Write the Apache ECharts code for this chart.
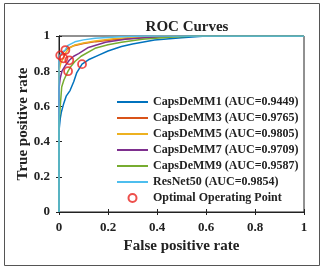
<!DOCTYPE html>
<html>
<head>
<meta charset="utf-8">
<title>ROC Curves</title>
<style>
  html, body { margin: 0; padding: 0; background: #fff; }
  #chart { width: 324px; height: 271px; }
</style>
</head>
<body>
<div id="chart"></div>
<script src="https://cdn.jsdelivr.net/npm/echarts@6/dist/echarts.min.js"></script>
<script>
// ROC curves as [fpr, tpr]
var caps1 = [[0,0],[0,0.46],[0.005,0.53],[0.01,0.57],[0.02,0.62],[0.03,0.66],[0.045,0.69],[0.06,0.74],[0.072,0.79],[0.094,0.84],[0.12,0.865],[0.16,0.89],[0.2,0.915],[0.255,0.94],[0.3,0.955],[0.39,0.977],[0.5,0.99],[0.6,1],[1,1]];
var caps3 = [[0,0],[0,0.82],[0.005,0.89],[0.015,0.905],[0.03,0.925],[0.06,0.945],[0.1,0.957],[0.15,0.968],[0.23,0.98],[0.35,0.992],[0.45,1],[1,1]];
var caps5 = [[0,0],[0,0.8],[0.008,0.85],[0.018,0.873],[0.025,0.9],[0.04,0.93],[0.065,0.949],[0.1,0.96],[0.147,0.972],[0.23,0.986],[0.35,0.996],[0.45,1],[1,1]];
var caps7 = [[0,0],[0,0.7],[0.005,0.76],[0.012,0.8],[0.025,0.83],[0.042,0.862],[0.06,0.885],[0.08,0.9],[0.12,0.935],[0.19,0.965],[0.27,0.982],[0.35,0.99],[0.45,0.997],[0.55,1],[1,1]];
var caps9 = [[0,0],[0,0.5],[0.004,0.58],[0.011,0.71],[0.02,0.75],[0.03,0.78],[0.037,0.80],[0.05,0.83],[0.065,0.855],[0.09,0.885],[0.147,0.93],[0.2,0.95],[0.255,0.964],[0.34,0.982],[0.45,0.993],[0.55,1],[1,1]];
var resnet = [[0,0],[0,0.88],[0.01,0.905],[0.026,0.92],[0.035,0.945],[0.065,0.967],[0.1,0.978],[0.147,0.987],[0.25,0.996],[0.35,1],[1,1]];
var optimal = [[0.005,0.89],[0.018,0.873],[0.042,0.862],[0.037,0.80],[0.094,0.84],[0.026,0.92]];

var names = ['CapsDeMM1 (AUC=0.9449)','CapsDeMM3 (AUC=0.9765)','CapsDeMM5 (AUC=0.9805)',
             'CapsDeMM7 (AUC=0.9709)','CapsDeMM9 (AUC=0.9587)','ResNet50 (AUC=0.9854)'];
var colors = ['#0072BD','#D95319','#EDB120','#7E2F8E','#77AC30','#4DBEEE'];
var curves = [caps1, caps3, caps5, caps7, caps9, resnet];

var font = 'Liberation Serif';
var chart = echarts.init(document.getElementById('chart'));

var series = curves.map(function (d, i) {
  return {
    name: names[i], type: 'line', data: d, showSymbol: false, symbol: 'none',
    lineStyle: { color: colors[i], width: 1.5 }, itemStyle: { color: colors[i] },
    animation: false
  };
});
series.push({
  name: 'Optimal Operating Point', type: 'scatter', data: optimal,
  symbol: 'circle', symbolSize: 8,
  itemStyle: { color: 'rgba(0,0,0,0)', borderColor: '#e8231e', borderWidth: 1.8 },
  z: 5, animation: false
});

var lineIcon = 'path://M0,0 L31,0 L31,2 L0,2 Z';
var legendData = names.map(function (n) { return { name: n, icon: lineIcon }; });
legendData.push({ name: 'Optimal Operating Point', icon: 'circle' });

var axisCommon = {
  type: 'value', min: 0, max: 1, interval: 0.2,
  axisLine: { show: true, lineStyle: { color: '#222', width: 1 } },
  axisTick: { show: true, inside: true, length: 3, lineStyle: { color: '#222' } },
  splitLine: { show: false }
};

chart.setOption({
  backgroundColor: '#fff',
  title: {
    text: 'ROC Curves', left: 182, top: 15, textAlign: 'center',
    textStyle: { fontFamily: font, fontWeight: 'bold', fontSize: 15, color: '#222' }
  },
  graphic: [{
    type: 'rect', shape: { x: 4.5, y: 3.5, width: 315, height: 262 },
    style: { fill: 'none', stroke: '#555', lineWidth: 1 }, silent: true
  }],
  legend: {
    orient: 'vertical', left: 112, top: 91, itemWidth: 31, itemHeight: 8, itemGap: 4,
    data: legendData,
    textStyle: { fontFamily: font, fontWeight: 'bold', fontSize: 12, color: '#222' }
  },
  grid: { left: 59, right: 20, top: 36, bottom: 59, show: true, borderColor: '#222', borderWidth: 1, backgroundColor: '#fff' },
  xAxis: [
    Object.assign({}, axisCommon, {
      position: 'bottom', name: 'False positive rate', nameLocation: 'middle', nameGap: 25,
      nameTextStyle: { fontFamily: font, fontWeight: 'bold', fontSize: 15, color: '#222' },
      axisLabel: { margin: 9, fontFamily: font, fontWeight: 'bold', fontSize: 13, color: '#222' }
    }),
    Object.assign({}, axisCommon, { position: 'top', axisLabel: { show: false } })
  ],
  yAxis: [
    Object.assign({}, axisCommon, {
      position: 'left', name: 'True positive rate', nameLocation: 'middle', nameGap: 28,
      nameMoveOverlap: false,
      nameTextStyle: { fontFamily: font, fontWeight: 'bold', fontSize: 15, color: '#222' },
      axisLabel: { margin: 9, fontFamily: font, fontWeight: 'bold', fontSize: 13, color: '#222' }
    }),
    Object.assign({}, axisCommon, { position: 'right', axisLabel: { show: false } })
  ],
  series: series
});
</script>
</body>
</html>
